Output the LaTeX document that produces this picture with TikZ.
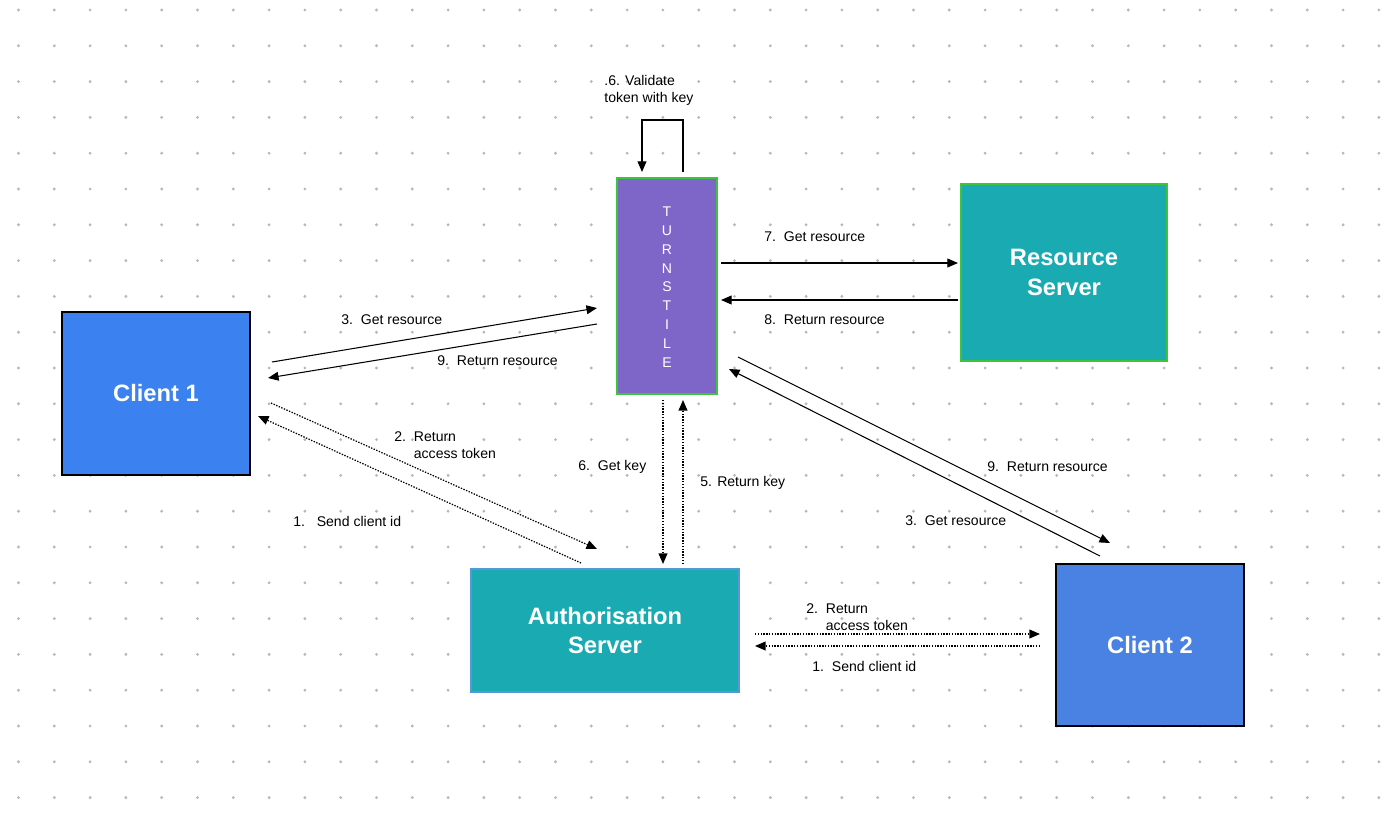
\documentclass[tikz,border=0pt]{standalone}
\usepackage{fontspec}
\setmainfont{Liberation Sans}
\usetikzlibrary{arrows.meta}
\definecolor{tealbox}{HTML}{1AABB2}
\definecolor{bluebox}{HTML}{3B82F0}
\definecolor{blueboxb}{HTML}{4A82E3}
\definecolor{purplebox}{HTML}{7E66C8}
\definecolor{greenline}{HTML}{3CC43C}
\definecolor{dotgrey}{HTML}{B8B8B8}
\tikzset{
  box/.style={draw, line width=0.8pt, text=white, font=\bfseries\fontsize{13.5}{17}\selectfont, align=center, inner sep=0pt},
  lbl/.style={anchor=west, font=\fontsize{8}{9.6}\selectfont, align=left, inner sep=0pt},
  flow/.style={-{Triangle[length=6pt,width=5pt]}, line width=0.6pt},
  dots/.style={flow, line width=0.7pt, dash pattern=on 0.8pt off 0.8pt},
}
\begin{document}
\begin{tikzpicture}[x=0.02cm, y=-0.02cm]
        \useasboundingbox (0,0) rectangle (1400,815);
        \fill[white] (0,0) rectangle (1400,815);
        % dot grid
        \foreach \i in {0,...,38}
          \foreach \j in {0,...,22}
            \fill[dotgrey] (18.5+35.8*\i, 10+35.8*\j) circle (0.9pt);

        \node[box, fill=purplebox, draw=greenline, minimum width=2cm, minimum height=4.32cm] at (667,286) (turnstile) {};
        \node[text=white, font=\fontsize{8}{10.7}\selectfont, align=center] at (667,287) (letters) {T\\U\\R\\N\\S\\T\\I\\L\\E};
        \node[box, fill=tealbox, draw=greenline, minimum width=4.12cm, minimum height=3.54cm] at (1064,272.5) (resource) {Resource\\Server};
        \node[box, fill=bluebox, draw=black, minimum width=3.76cm, minimum height=3.26cm] at (156,393.5) (client1) {Client 1};
        \node[box, fill=tealbox, draw=cyan!60!blue!70, minimum width=5.36cm, minimum height=2.46cm] at (605,630.5) (auth) {Authorisation\\Server};
        \node[box, fill=blueboxb, draw=black, minimum width=3.76cm, minimum height=3.24cm] at (1150,645) (client2) {Client 2};

        % arrow ends
        \coordinate (t1) at (721,263);  \coordinate (r1) at (958,263);
        \coordinate (r2) at (958,300);  \coordinate (t2) at (721,300);
        \coordinate (c1a) at (272,362); \coordinate (t3) at (597,308);
        \coordinate (t4) at (597,324);  \coordinate (c1b) at (268,378);
        \coordinate (c1c) at (271,403); \coordinate (a1) at (597,549);
        \coordinate (a2) at (581,563);  \coordinate (c1d) at (258,416);
        \coordinate (t5) at (663,400);  \coordinate (a3) at (663,564);
        \coordinate (a4) at (683,564);  \coordinate (t6) at (683,400);
        \coordinate (t7) at (738,357);  \coordinate (c2a) at (1110,543);
        \coordinate (c2b) at (1100,556); \coordinate (t8) at (729,369);
        \coordinate (a5) at (755,634);  \coordinate (c2c) at (1040,634);
        \coordinate (c2d) at (1040,646); \coordinate (a6) at (755,646);
        \coordinate (loopa) at (683,172); \coordinate (loopb) at (683,120);
        \coordinate (loopc) at (642,120); \coordinate (loopd) at (642,172);

        \draw[flow] (t1) -- (r1);
        \draw[flow] (r2) -- (t2);
        \draw[flow] (c1a) -- (t3);
        \draw[flow] (t4) -- (c1b);
        \draw[dots] (c1c) -- (a1);
        \draw[dots] (a2) -- (c1d);
        \draw[dots] (t5) -- (a3);
        \draw[dots] (a4) -- (t6);
        \draw[flow] (t7) -- (c2a);
        \draw[flow] (c2b) -- (t8);
        \draw[dots] (a5) -- (c2c);
        \draw[dots] (c2d) -- (a6);
        \draw[flow] (loopa) -- (loopb) -- (loopc) -- (loopd);

        % labels
        \node[lbl] at (604,90)  (l6v) {.6. Validate\\token with key};
        \node[lbl] at (764,237) (l7)  {7.\ \ Get resource};
        \node[lbl] at (764,320) (l8)  {8.\ \ Return resource};
        \node[lbl] at (341,320) (l3a) {3.\ \ Get resource};
        \node[lbl] at (437,361) (l9a) {9.\ \ Return resource};
        \node[lbl] at (394,445) (l2a) {2.\ \ Return\\\phantom{2.\ \ }access token};
        \node[lbl] at (293,521) (l1a) {1.\ \ \ Send client id};
        \node[lbl] at (578,467) (l6)  {6.\ \ Get key};
        \node[lbl] at (700,483) (l5)  {5. Return key};
        \node[lbl] at (987,467) (l9b) {9.\ \ Return resource};
        \node[lbl] at (905,521) (l3b) {3.\ \ Get resource};
        \node[lbl] at (806,617) (l2b) {2.\ \ Return\\\phantom{2.\ \ }access token};
        \node[lbl] at (812,666) (l1b) {1.\ \ Send client id};
      \end{tikzpicture}
\end{document}
